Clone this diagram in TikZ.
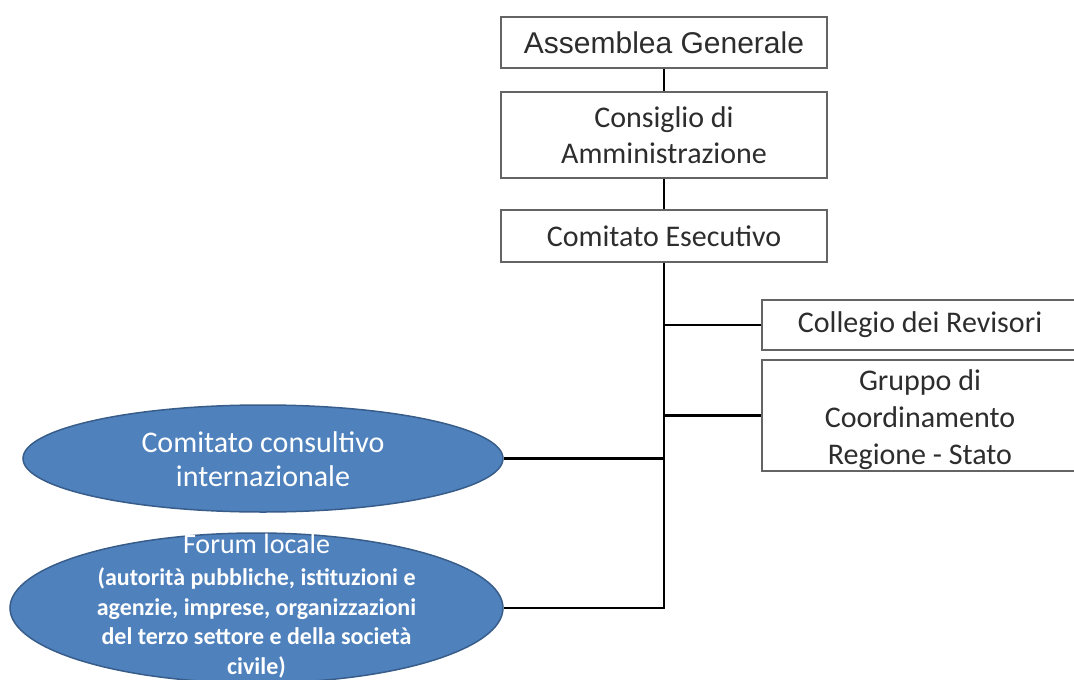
\documentclass[tikz,border=0pt]{standalone}
\usepackage{fontspec}
\setmainfont{Carlito}
\newfontfamily\arialfont{Liberation Sans}
\usepackage{xcolor}
\usetikzlibrary{shapes.geometric, positioning, calc}
\definecolor{OrgBlue}{RGB}{79,129,189}
\definecolor{OrgBlueDark}{RGB}{56,93,138}
\definecolor{OrgGray}{RGB}{100,100,100}
\definecolor{OrgText}{RGB}{45,45,45}

\begin{document}
\begin{tikzpicture}[x=1pt, y=-1pt,
    orgbox/.style={draw=OrgGray, line width=1.8pt, fill=white, text=OrgText, align=center, inner sep=0pt, font=\fontsize{30}{36.5}\selectfont},
    orgoval/.style={ellipse, draw=OrgBlueDark, fill=OrgBlue, line width=1.5pt, inner sep=0pt},
    ovaltext/.style={text=white, align=center, inner sep=0pt},
    link/.style={line width=2.6pt, black}]
    \useasboundingbox (0,0) rectangle (1074,680);

    % Main chain
    \node[orgbox, minimum width=326, minimum height=51, font=\arialfont\fontsize{30}{36}\selectfont] (assemblea) at (664,42.5) {Assemblea Generale};
    \node[orgbox, minimum width=326, minimum height=86] (consiglio) at (664,135) {Consiglio di\\Amministrazione};
    \node[orgbox, minimum width=326, minimum height=52] (esecutivo) at (664,236) {Comitato Esecutivo};

    % Boxes on the right
    \node[orgbox, minimum width=316, minimum height=50] (collegio) at (920,325) {Collegio dei Revisori};
    \node[orgbox, minimum width=316, minimum height=111, font=\fontsize{30}{37}\selectfont] (gruppo) at (920,415.5) {\rule{0pt}{30pt}Gruppo di\\Coordinamento\\Regione - Stato};

    % Ellipses on the left
    \node[orgoval, minimum width=480, minimum height=107] (consultivo) at (263,458.5) {};
    \node[ovaltext, font=\fontsize{30}{34}\selectfont] (consultivotext) at ([yshift=-1]consultivo.center) {Comitato consultivo\\internazionale};
    \node[orgoval, minimum width=493, minimum height=150] (forum) at (256.5,608) {};
    \node[ovaltext, font=\bfseries\fontsize{24}{29.5}\selectfont] (forumtext) at ([yshift=2]forum.center) {{\mdseries\fontsize{28}{30}\selectfont Forum locale}\\[3pt](autorità pubbliche, istituzioni e\\agenzie, imprese, organizzazioni\\del terzo settore e della società\\civile)};

    % Connectors
    \draw[link] (assemblea.south) -- (consiglio.north);
    \draw[link] (consiglio.south) -- (esecutivo.north);
    \coordinate (corner) at (esecutivo.south |- forum.east);
    \draw[link] (esecutivo.south) -- (corner) -- (forum.east);
    \draw[link] (esecutivo.south |- collegio.west) -- (collegio.west);
    \draw[link] (esecutivo.south |- gruppo.west) -- (gruppo.west);
    \draw[link] (esecutivo.south |- consultivo.east) -- (consultivo.east);
\end{tikzpicture}
\end{document}
